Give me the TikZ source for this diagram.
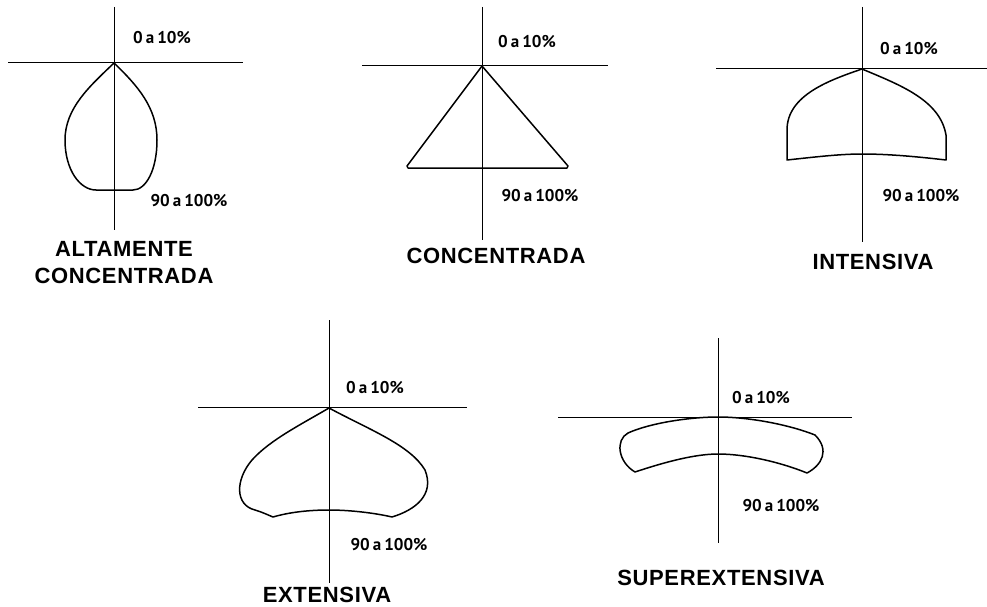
\documentclass[tikz,border=0pt]{standalone}
\usepackage{fontspec}
\setmainfont{Liberation Sans}
\newfontfamily\pctfont[WordSpace=0.7]{PT Sans}
\newfontfamily\capfont[LetterSpace=3]{Liberation Sans}
\usepackage{tikz}
\usetikzlibrary{positioning}

\begin{document}
\begin{tikzpicture}[x=1pt, y=-1pt,
    axis/.style={line width=0.8pt, black},
    outline/.style={line width=1.5pt, line join=round, black},
    pct/.style={font=\pctfont\bfseries\fontsize{17}{19}\selectfont, inner sep=0pt},
    caption/.style={font=\capfont\bfseries\fontsize{22}{27}\selectfont, align=center, inner sep=0pt},
]
\useasboundingbox (0,0) rectangle (987,607);

% altamente concentrada
\draw[axis] (114,7) -- (114,230);
\draw[axis] (8,62) -- (243,62);
\draw[outline] (114,63) .. controls (138,86) and (157,108) .. (157,140)
    .. controls (157,170) and (146,190) .. (133,190) -- (96,190)
    .. controls (80,190) and (65,170) .. (65,140)
    .. controls (65,108) and (90,86) .. (114,63) -- cycle;
\node[pct] (a1) at (162,38) {0 a 10\%};
\node[pct] (a2) at (189,201) {90 a 100\%};
\node[caption] (a3) at (124,263) {ALTAMENTE\\CONCENTRADA};

% concentrada
\draw[axis] (482,7) -- (482,240);
\draw[axis] (362,65) -- (608,65);
\draw[outline] (482,66) -- (568,166) -- (567,168) -- (408,168) -- (407,166) -- cycle;
\node[pct] (b1) at (527,42) {0 a 10\%};
\node[pct] (b2) at (540,196) {90 a 100\%};
\node[caption] (b3) at (496,256) {CONCENTRADA};

% intensiva
\draw[axis] (862,7) -- (862,242);
\draw[axis] (716,68) -- (987,68);
\draw[outline] (862,69) .. controls (830,80) and (787,95) .. (787,130) -- (787,160)
    .. controls (815,157) and (840,154) .. (862,154)
    .. controls (890,154) and (920,157) .. (946,160) -- (946,135)
    .. controls (940,100) and (900,85) .. (862,69) -- cycle;
\node[pct] (c1) at (909,49) {0 a 10\%};
\node[pct] (c2) at (921,196) {90 a 100\%};
\node[caption] (c3) at (873,262) {INTENSIVA};

% extensiva
\draw[axis] (329,320) -- (329,583);
\draw[axis] (198,407) -- (467,407);
\draw[outline] (329,408) .. controls (300,425) and (270,440) .. (252,460)
    .. controls (235,480) and (235,505) .. (255,510)
    .. controls (262,512) and (268,515) .. (273,517)
    .. controls (290,512) and (310,510) .. (329,510)
    .. controls (350,510) and (375,513) .. (392,517)
    .. controls (415,510) and (435,495) .. (425,470)
    .. controls (410,445) and (370,430) .. (329,408) -- cycle;
\node[pct] (d1) at (375,388) {0 a 10\%};
\node[pct] (d2) at (389,545) {90 a 100\%};
\node[caption] (d3) at (327,595) {EXTENSIVA};

% superextensiva
\draw[axis] (718,338) -- (718,543);
\draw[axis] (558,417) -- (852,417);
\draw[outline] (718,417) .. controls (690,417) and (650,423) .. (628,433)
    .. controls (615,440) and (618,462) .. (635,472)
    .. controls (665,462) and (695,454) .. (718,454)
    .. controls (745,454) and (780,462) .. (807,473)
    .. controls (822,465) and (830,450) .. (815,435)
    .. controls (790,425) and (750,417) .. (718,417) -- cycle;
\node[pct] (e1) at (761,398) {0 a 10\%};
\node[pct] (e2) at (781,506) {90 a 100\%};
\node[caption] (e3) at (721,578) {SUPEREXTENSIVA};
\end{tikzpicture}
\end{document}
